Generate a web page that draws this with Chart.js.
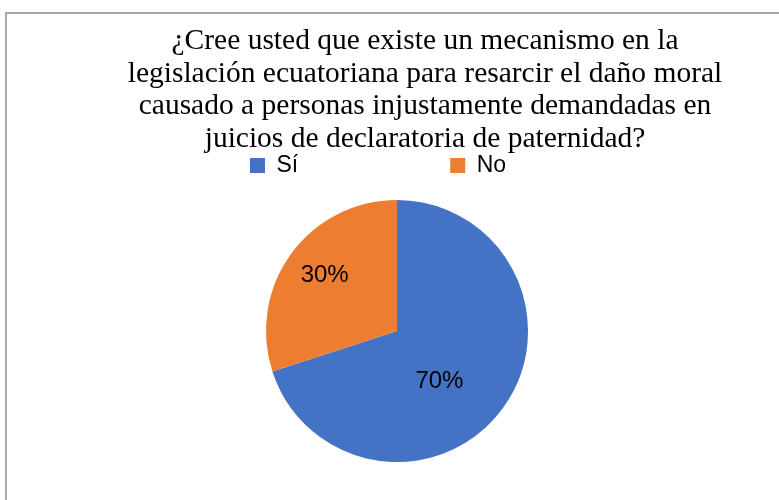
<!DOCTYPE html>
<html>
<head>
<meta charset="utf-8">
<script src="https://cdn.jsdelivr.net/npm/chart.js@4/dist/chart.umd.min.js"></script>
<style>
  html, body { margin: 0; padding: 0; background: #fff; overflow: hidden; }
  #marco { position: absolute; left: 5px; top: 12px; width: 900px; height: 600px; border: 2px solid #a8a8a8; }
  #grafico { position: absolute; left: 0; top: 0; }
</style>
</head>
<body>
<div id="marco"></div>
<canvas id="grafico" width="779" height="500"></canvas>
<script>
var tituloLineas = [
    '¿Cree usted que existe un mecanismo en la',
    'legislación ecuatoriana para resarcir el daño moral',
    'causado a personas injustamente demandadas en',
    'juicios de declaratoria de paternidad?'
];
var categorias = ['Sí', 'No'];
var porcentajes = [70, 30];

// donde va cada etiqueta: [fraccion del angulo del sector, fraccion del radio]
var puntoEtiqueta = [[0.554, 0.5], [0.513, 0.695]];

// caja vacia a la derecha, para que la torta quede a la izquierda del centro del titulo
var margenDerecho = {
    id: 'margenDerecho',
    beforeInit: function(chart){
        Chart.layouts.addBox(chart, {
            position: 'right',
            weight: 0,
            fullSize: false,
            options: {},
            width: 56,
            height: 0,
            isHorizontal: function(){ return false; },
            update: function(maxWidth, maxHeight){
                this.width = 56;
                this.height = maxHeight;
            },
            draw: function(){}
        });
    }
};

var etiquetas = {
    id: 'etiquetas',
    afterDatasetsDraw: function(chart){
        var ctx = chart.ctx;
        var meta = chart.getDatasetMeta(0);
        ctx.save();
        ctx.font = '24px "Liberation Sans", Arial, sans-serif';
        ctx.fillStyle = '#000';
        ctx.textAlign = 'center';
        ctx.textBaseline = 'middle';
        meta.data.forEach(function(arc, i){
            var p = arc.getProps(['x', 'y', 'startAngle', 'endAngle', 'outerRadius'], true);
            var a = p.startAngle + (p.endAngle - p.startAngle) * puntoEtiqueta[i][0];
            var r = p.outerRadius * puntoEtiqueta[i][1];
            ctx.fillText(porcentajes[i] + '%', p.x + Math.cos(a) * r, p.y + Math.sin(a) * r);
        });
        ctx.restore();
    }
};

new Chart(document.getElementById('grafico'), {
    type: 'pie',
    data: {
        labels: categorias,
        datasets: [{
            data: porcentajes,
            backgroundColor: ['#4472C4', '#ED7D31'],
            borderWidth: 0,
            radius: 131
        }]
    },
    options: {
        responsive: false,
        animation: false,
        layout: {
            padding: { left: 98, right: 27, top: 0, bottom: 25 }
        },
        plugins: {
            title: {
                display: true,
                text: tituloLineas,
                color: '#000',
                font: { family: '"Liberation Serif", "Times New Roman", serif', size: 29.5, weight: 'normal', lineHeight: '32.5px' },
                // el fondo negativo deja que la leyenda suba, su padding grande la empuja hacia abajo
                padding: { top: 25.3, bottom: -153.3 }
            },
            legend: {
                position: 'top',
                align: 'start',
                labels: {
                    boxWidth: 15,
                    boxHeight: 15,
                    padding: 152,
                    color: '#000',
                    font: { family: '"Liberation Sans", Arial, sans-serif', size: 23 }
                }
            },
            tooltip: { enabled: false }
        }
    },
    plugins: [margenDerecho, etiquetas]
});
</script>
</body>
</html>
